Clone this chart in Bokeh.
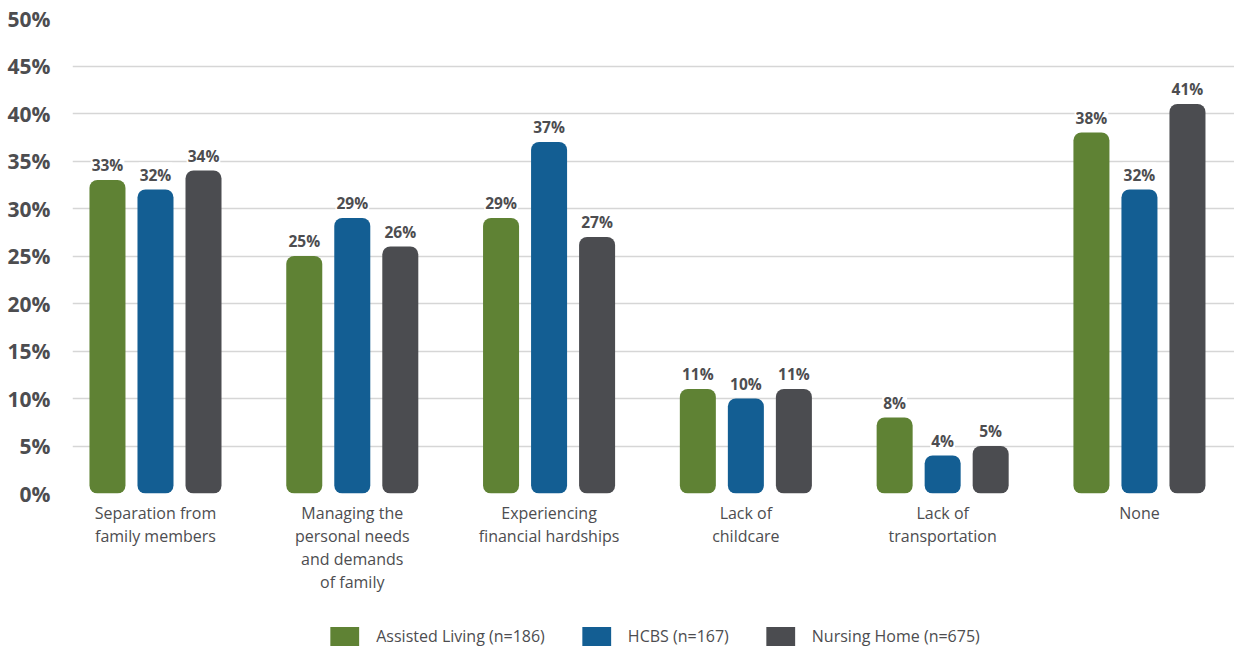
from bokeh.plotting import figure
from bokeh.layouts import column
from bokeh.models import (ColumnDataSource, FixedTicker, Range1d, Legend, LegendItem,
                          PrintfTickFormatter)
from bokeh.core.properties import value
from bokeh.embed import file_html
from bokeh.resources import INLINE

# ---- data ----
categories = [
    "Separation from\nfamily members",
    "Managing the\npersonal needs\nand demands\nof family",
    "Experiencing\nfinancial hardships",
    "Lack of\nchildcare",
    "Lack of\ntransportation",
    "None",
]
series_names = ["Assisted Living (n=186)", "HCBS (n=167)", "Nursing Home (n=675)"]
assisted_living = [33, 25, 29, 11, 8, 38]
hcbs = [32, 29, 37, 10, 4, 32]
nursing_home = [34, 26, 27, 11, 5, 41]
y_ticks = [0, 5, 10, 15, 20, 25, 30, 35, 40, 45, 50]

# ---- styling ----
colors = ["#5f8234", "#135e93", "#4b4c50"]
offsets = [-0.244, 0.0, 0.244]
bar_width = 0.183
text_color = "#4d4d50"
FONT = "Open Sans"

p = figure(frame_width=1162, frame_height=475, x_range=Range1d(-0.4217, 5.483),
           y_range=Range1d(0, 50),
           output_backend="svg", toolbar_location=None,
           min_border_left=72, min_border_right=0, min_border_top=18, min_border_bottom=120)
p.outline_line_color = None
p.background_fill_color = "white"
p.border_fill_color = "white"

# axes
p.yaxis.ticker = FixedTicker(ticks=y_ticks)
p.yaxis.formatter = PrintfTickFormatter(format="%d%%")
p.yaxis.axis_line_color = None
p.yaxis.major_tick_line_color = None
p.yaxis.minor_tick_line_color = None
p.yaxis.major_label_text_font = FONT
p.yaxis.major_label_text_font_style = "bold"
p.yaxis.major_label_text_font_size = "21px"
p.yaxis.major_label_text_color = text_color
p.yaxis.major_label_standoff = 16

p.xaxis.ticker = FixedTicker(ticks=list(range(len(categories))))
p.xaxis.major_label_overrides = {i: c for i, c in enumerate(categories)}
p.xaxis.axis_line_color = None
p.xaxis.major_tick_line_color = None
p.xaxis.minor_tick_line_color = None
p.xaxis.major_label_text_font = FONT
p.xaxis.major_label_text_font_size = "16px"
p.xaxis.major_label_text_color = text_color
p.xaxis.major_label_text_line_height = 1.05
p.xaxis.major_label_standoff = 2

p.xgrid.grid_line_color = None
p.ygrid.ticker = FixedTicker(ticks=y_ticks)
p.ygrid.grid_line_color = "#d6d6d6"
p.ygrid.grid_line_width = 1.5

xs = list(range(len(categories)))
series = [assisted_living, hcbs, nursing_home]
for vals, name, col, off in zip(series, series_names, colors, offsets):
    src = ColumnDataSource(dict(x=[x + off for x in xs], top=vals,
                                label=[f"{v}%" for v in vals]))
    p.vbar(x="x", top="top", bottom=0, width=bar_width, source=src,
           fill_color=col, line_color=None, border_radius=8)
    p.text(x="x", y="top", text="label", source=src, text_align="center",
           text_baseline="bottom", y_offset=-3, text_font=value(FONT),
           text_font_style="bold", text_font_size="15.5px", text_color=text_color,
           background_fill_color="white", padding=1)

# ---- legend strip (separate small figure under the chart) ----
lg = figure(width=1234, height=39, x_range=Range1d(0, 1), y_range=Range1d(0, 1),
            output_backend="svg", toolbar_location=None,
            x_axis_location=None, y_axis_location=None, min_border=0)
lg.outline_line_color = None
lg.xgrid.visible = False
lg.ygrid.visible = False
items = []
for name, col in zip(series_names, colors):
    # placeholder renderer (off-range, zero height) only used to draw the legend swatch
    r = lg.vbar(x=[5], top=[0], bottom=0, width=0.1, fill_color=col, line_color=None,
                border_radius=6)
    items.append(LegendItem(label=name, renderers=[r]))
legend = Legend(items=items, orientation="horizontal", location="bottom_center",
                glyph_width=36, glyph_height=24, label_standoff=14, spacing=33,
                label_text_font=FONT, label_text_font_size="16px",
                label_text_color=text_color, border_line_color=None,
                background_fill_alpha=0, padding=0, margin=4)
lg.add_layout(legend, "center")

layout = column(p, lg, spacing=0)
open("out.html", "w").write(file_html(layout, INLINE))
